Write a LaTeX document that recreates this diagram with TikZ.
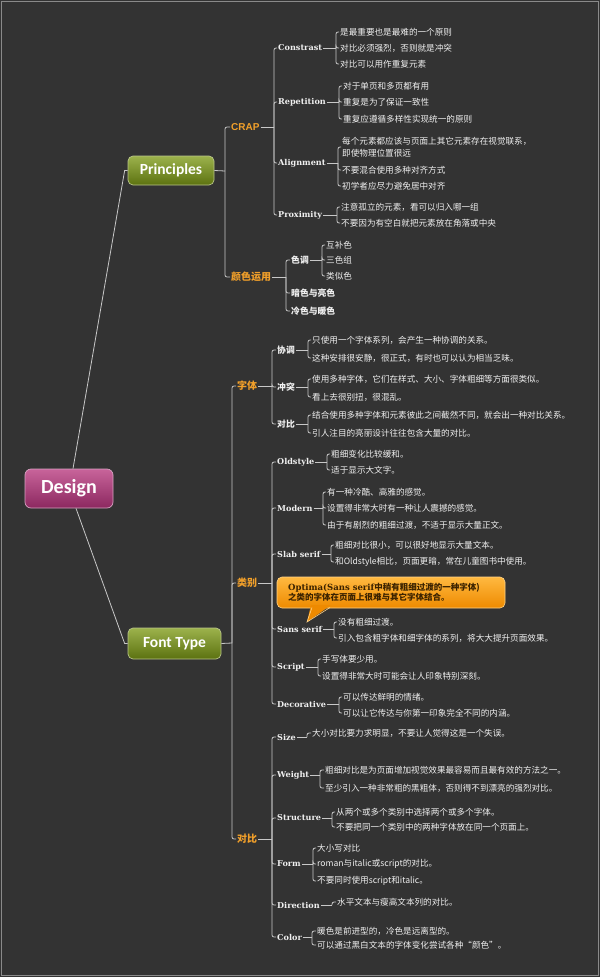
\documentclass[tikz,border=0pt]{standalone}
\usepackage{fontspec}
\newfontfamily\cjk{Noto Sans CJK SC}
\newfontfamily\serl{DejaVu Serif}
\newfontfamily\carl{Carlito}
\newfontfamily\lsans{Liberation Sans}
\definecolor{bg}{HTML}{333333}
\definecolor{framec}{HTML}{8A8A8A}
\definecolor{txt}{HTML}{F0F0F0}
\definecolor{linec}{HTML}{C8C8C8}
\definecolor{orng}{HTML}{F2A02A}
\definecolor{gtop}{HTML}{9CB24C}
\definecolor{gbot}{HTML}{5C7210}
\definecolor{gbord}{HTML}{B9C58A}
\definecolor{ptop}{HTML}{C8649A}
\definecolor{pbot}{HTML}{8C2860}
\definecolor{pbord}{HTML}{D8A2C2}
\definecolor{ctop}{HTML}{FFB940}
\definecolor{cbot}{HTML}{EE8A00}
\definecolor{cbord}{HTML}{FFD48A}
\definecolor{calltxt}{HTML}{3A2200}
\begin{document}
\begin{tikzpicture}[x=1pt,y=-1pt,
  conn/.style={draw=linec, line width=0.8pt, rounded corners=2pt},
  leaf/.style={anchor=west, inner sep=1pt, text=txt, font=\cjk\fontsize{8.6}{10}\selectfont},
  lab/.style={anchor=west, inner sep=1pt, text=txt, font=\serl\bfseries\fontsize{8.1}{9}\selectfont},
  cjklab/.style={anchor=west, inner sep=1pt, text=txt, font=\cjk\bfseries\fontsize{8.8}{10}\selectfont},
  cat/.style={anchor=west, inner sep=1pt, text=orng, font=\cjk\bfseries\fontsize{10}{12}\selectfont},
  gnode/.style={rounded corners=5pt, draw=gbord, line width=0.7pt, top color=gtop, bottom color=gbot, text=white, font=\carl\bfseries\fontsize{15.5}{17}\selectfont, inner sep=0pt},
  pnode/.style={rounded corners=6pt, draw=pbord, line width=0.7pt, top color=ptop, bottom color=pbot, text=white, font=\carl\bfseries\fontsize{20}{22}\selectfont, inner sep=0pt},
  callbox/.style={rounded corners=5pt, draw=cbord, line width=0.6pt, top color=ctop, bottom color=cbot, inner sep=0pt}
]
\useasboundingbox (0,0) rectangle (600,977);
\fill[bg] (0,0) rectangle (600,977);
\draw[framec, line width=1pt] (1.5,1.5) rectangle (598.5,975.5);

% main nodes
\node[pnode, minimum width=88pt, minimum height=39pt] (design) at (69,488.5) {Design};
\node[gnode, minimum width=86pt, minimum height=29pt] (principles) at (171,170.5) {Principles};
\node[gnode, minimum width=93pt, minimum height=31pt] (fonttype) at (174.5,643.5) {Font Type};
\draw[conn, rounded corners=0pt] ([xshift=4pt]design.north) -- ([xshift=-3pt]principles.west) -- (principles.west);
\draw[conn, rounded corners=0pt] ([xshift=7pt]design.south) -- ([xshift=-3pt]fonttype.west) -- (fonttype.west);

% ---------------- Principles
\coordinate (prbr) at (225,171);
\node[cat, font=\lsans\bfseries\fontsize{10}{12}\selectfont] (crap) at (230,127) {CRAP};
\node[cat] (yanse) at (230,277) {颜色运用};
\draw[conn] (principles.east) -- (prbr);
\foreach \c in {crap,yanse} \draw[conn] (prbr) |- (\c.west);

% CRAP
\coordinate (crapbr) at (274,127);
\node[lab] (constrast) at (277,48) {Constrast};
\node[lab] (repetition) at (277,102) {Repetition};
\node[lab] (alignment) at (277,163) {Alignment};
\node[lab] (proximity) at (277,215) {Proximity};
\draw[conn] (crap.east) -- (crapbr);
\foreach \c in {constrast,repetition,alignment,proximity} \draw[conn] (crapbr) |- (\c.west);

% Constrast
\coordinate (cbr) at (336,48);
\node[leaf] (c1) at (339,32) {是最重要也是最难的一个原则};
\node[leaf] (c2) at (339,48) {对比必须强烈，否则就是冲突};
\node[leaf] (c3) at (339,64) {对比可以用作重复元素};
\draw[conn] (constrast.east) -- (cbr);
\foreach \c in {c1,c2,c3} \draw[conn] (cbr) |- (\c.west);

% Repetition
\coordinate (rbr) at (339,102);
\node[leaf] (r1) at (342,86) {对于单页和多页都有用};
\node[leaf] (r2) at (342,102) {重复是为了保证一致性};
\node[leaf] (r3) at (342,119) {重复应遵循多样性实现统一的原则};
\draw[conn] (repetition.east) -- (rbr);
\foreach \c in {r1,r2,r3} \draw[conn] (rbr) |- (\c.west);

% Alignment
\coordinate (abr) at (338,163);
\node[leaf, align=left, font=\cjk\fontsize{8.6}{12}\selectfont] (a1) at (341,147) {每个元素都应该与页面上其它元素存在视觉联系，\\即使物理位置很远};
\node[leaf] (a2) at (341,170) {不要混合使用多种对齐方式};
\node[leaf] (a3) at (341,186) {初学者应尽力避免居中对齐};
\draw[conn] (alignment.east) -- (abr);
\foreach \c in {a1,a2,a3} \draw[conn] (abr) |- (\c.west);

% Proximity
\coordinate (pbr) at (337,215);
\node[leaf] (p1) at (340,207) {注意孤立的元素，看可以归入哪一组};
\node[leaf] (p2) at (340,223) {不要因为有空白就把元素放在角落或中央};
\draw[conn] (proximity.east) -- (pbr);
\foreach \c in {p1,p2} \draw[conn] (pbr) |- (\c.west);

% 颜色运用
\coordinate (ysbr) at (286,277);
\node[cjklab] (sediao) at (290,260) {色调};
\node[cjklab] (anse) at (290,293) {暗色与亮色};
\node[cjklab] (lengse) at (290,311) {冷色与暖色};
\draw[conn] (yanse.east) -- (ysbr);
\foreach \c in {sediao,anse,lengse} \draw[conn] (ysbr) |- (\c.west);

\coordinate (sdbr) at (322,260);
\node[leaf] (sd1) at (325,245) {互补色};
\node[leaf] (sd2) at (325,260) {三色组};
\node[leaf] (sd3) at (325,276) {类似色};
\draw[conn] (sediao.east) -- (sdbr);
\foreach \c in {sd1,sd2,sd3} \draw[conn] (sdbr) |- (\c.west);

% ---------------- Font Type
\coordinate (ftbr) at (232,643);
\node[cat] (ziti) at (236,386) {字体};
\node[cat] (leibie) at (236,583) {类别};
\node[cat] (duibi) at (236,839) {对比};
\draw[conn] (fonttype.east) -- (ftbr);
\foreach \c in {ziti,leibie,duibi} \draw[conn] (ftbr) |- (\c.west);

% 字体
\coordinate (ztbr) at (272,386);
\node[cjklab] (xietiao) at (276,350) {协调};
\node[cjklab] (chongtu) at (276,387) {冲突};
\node[cjklab] (duibib) at (276,424) {对比};
\draw[conn] (ziti.east) -- (ztbr);
\foreach \c in {xietiao,chongtu,duibib} \draw[conn] (ztbr) |- (\c.west);

\coordinate (xtbr) at (308,350);
\node[leaf] (xt1) at (311,340) {只使用一个字体系列，会产生一种协调的关系。};
\node[leaf] (xt2) at (311,358) {这种安排很安静，很正式，有时也可以认为相当乏味。};
\draw[conn] (xietiao.east) -- (xtbr);
\foreach \c in {xt1,xt2} \draw[conn] (xtbr) |- (\c.west);

\coordinate (ctbr) at (308,387);
\node[leaf] (ct1) at (311,379) {使用多种字体，它们在样式、大小、字体粗细等方面很类似。};
\node[leaf] (ct2) at (311,397) {看上去很别扭，很混乱。};
\draw[conn] (chongtu.east) -- (ctbr);
\foreach \c in {ct1,ct2} \draw[conn] (ctbr) |- (\c.west);

\coordinate (dbbr) at (308,424);
\node[leaf] (db1) at (311,415) {结合使用多种字体和元素彼此之间截然不同，就会出一种对比关系。};
\node[leaf] (db2) at (311,433) {引人注目的亮丽设计往往包含大量的对比。};
\draw[conn] (duibib.east) -- (dbbr);
\foreach \c in {db1,db2} \draw[conn] (dbbr) |- (\c.west);

% 类别
\coordinate (lbbr) at (272,583);
\node[lab] (oldstyle) at (276,462) {Oldstyle};
\node[lab] (modern) at (276,508) {Modern};
\node[lab] (slab) at (276,554) {Slab serif};
\node[lab] (sans) at (276,629) {Sans serif};
\node[lab] (script) at (276,667) {Script};
\node[lab] (decorative) at (276,704) {Decorative};
\draw[conn] (leibie.east) -- (lbbr);
\foreach \c in {oldstyle,modern,slab,sans,script,decorative} \draw[conn] (lbbr) |- (\c.west);

\coordinate (osbr) at (327,462);
\node[leaf] (os1) at (330,454) {粗细变化比较缓和。};
\node[leaf] (os2) at (330,470) {适于显示大文字。};
\draw[conn] (oldstyle.east) -- (osbr);
\foreach \c in {os1,os2} \draw[conn] (osbr) |- (\c.west);

\coordinate (mdbr) at (323,508);
\node[leaf] (md1) at (326,492) {有一种冷酷、高雅的感觉。};
\node[leaf] (md2) at (326,508) {设置得非常大时有一种让人震撼的感觉。};
\node[leaf] (md3) at (326,525) {由于有剧烈的粗细过渡，不适于显示大量正文。};
\draw[conn] (modern.east) -- (mdbr);
\foreach \c in {md1,md2,md3} \draw[conn] (mdbr) |- (\c.west);

\coordinate (sbbr) at (331,554);
\node[leaf] (sb1) at (334,545) {粗细对比很小，可以很好地显示大量文本。};
\node[leaf] (sb2) at (334,562) {和Oldstyle相比，页面更暗，常在儿童图书中使用。};
\draw[conn] (slab.east) -- (sbbr);
\foreach \c in {sb1,sb2} \draw[conn] (sbbr) |- (\c.west);

% callout
\node[callbox, minimum width=228pt, minimum height=31pt] (callout) at (391,592.5) {};
\fill[cbot] (311,605) -- (307,622) -- (331,605) -- cycle;
\draw[cbord, line width=0.6pt] (312,607.5) -- (307,622) -- (330,607.5);
\node[anchor=west, inner sep=0pt, text=calltxt, align=left, font=\cjk\bfseries\fontsize{8.5}{10.5}\selectfont] (calltext) at (288,592) {{\serl\bfseries Optima(Sans serif}中稍有粗细过渡的一种字体)\\之类的字体在页面上很难与其它字体结合。};

\coordinate (ssbr) at (334,629);
\node[leaf] (ss1) at (337,622) {没有粗细过渡。};
\node[leaf] (ss2) at (337,638) {引入包含粗字体和细字体的系列，将大大提升页面效果。};
\draw[conn] (sans.east) -- (ssbr);
\foreach \c in {ss1,ss2} \draw[conn] (ssbr) |- (\c.west);

\coordinate (scbr) at (318,667);
\node[leaf] (sc1) at (321,659) {手写体要少用。};
\node[leaf] (sc2) at (321,676) {设置得非常大时可能会让人印象特别深刻。};
\draw[conn] (script.east) -- (scbr);
\foreach \c in {sc1,sc2} \draw[conn] (scbr) |- (\c.west);

\coordinate (dcbr) at (339,704);
\node[leaf] (dc1) at (342,697) {可以传达鲜明的情绪。};
\node[leaf] (dc2) at (342,713) {可以让它传达与你第一印象完全不同的内涵。};
\draw[conn] (decorative.east) -- (dcbr);
\foreach \c in {dc1,dc2} \draw[conn] (dcbr) |- (\c.west);

% 对比 (group)
\coordinate (dgbr) at (272,839);
\node[lab] (size) at (276,737) {Size};
\node[lab] (weight) at (276,775) {Weight};
\node[lab] (structure) at (276,818) {Structure};
\node[lab] (form) at (276,864) {Form};
\node[lab] (direction) at (276,905) {Direction};
\node[lab] (color) at (276,937) {Color};
\draw[conn] (duibi.east) -- (dgbr);
\foreach \c in {size,weight,structure,form,direction,color} \draw[conn] (dgbr) |- (\c.west);

\coordinate (szbr) at (307,737);
\node[leaf] (sz1) at (311,733) {大小对比要力求明显，不要让人觉得这是一个失误。};
\draw[conn] (size.east) -- (szbr);
\draw[conn] (szbr) |- (sz1.west);

\coordinate (wtbr) at (320,775);
\node[leaf] (wt1) at (324,770) {粗细对比是为页面增加视觉效果最容易而且最有效的方法之一。};
\node[leaf] (wt2) at (324,788) {至少引入一种非常粗的黑粗体，否则得不到漂亮的强烈对比。};
\draw[conn] (weight.east) -- (wtbr);
\foreach \c in {wt1,wt2} \draw[conn] (wtbr) |- (\c.west);

\coordinate (stbr) at (332,818);
\node[leaf] (st1) at (335,812) {从两个或多个类别中选择两个或多个字体。};
\node[leaf] (st2) at (335,827) {不要把同一个类别中的两种字体放在同一个页面上。};
\draw[conn] (structure.east) -- (stbr);
\foreach \c in {st1,st2} \draw[conn] (stbr) |- (\c.west);

\coordinate (fmbr) at (313,864);
\node[leaf] (fm1) at (316,848) {大小写对比};
\node[leaf] (fm2) at (316,864) {roman与italic或script的对比。};
\node[leaf] (fm3) at (316,881) {不要同时使用script和italic。};
\draw[conn] (form.east) -- (fmbr);
\foreach \c in {fm1,fm2,fm3} \draw[conn] (fmbr) |- (\c.west);

\coordinate (drbr) at (332,905);
\node[leaf] (dr1) at (336,902) {水平文本与瘦高文本列的对比。};
\draw[conn] (direction.east) -- (drbr);
\draw[conn] (drbr) |- (dr1.west);

\coordinate (clbr) at (312,937);
\node[leaf] (cl1) at (316,931) {暖色是前进型的，冷色是远离型的。};
\node[leaf] (cl2) at (316,945) {可以通过黑白文本的字体变化尝试各种“颜色”。};
\draw[conn] (color.east) -- (clbr);
\foreach \c in {cl1,cl2} \draw[conn] (clbr) |- (\c.west);
\end{tikzpicture}
\end{document}
